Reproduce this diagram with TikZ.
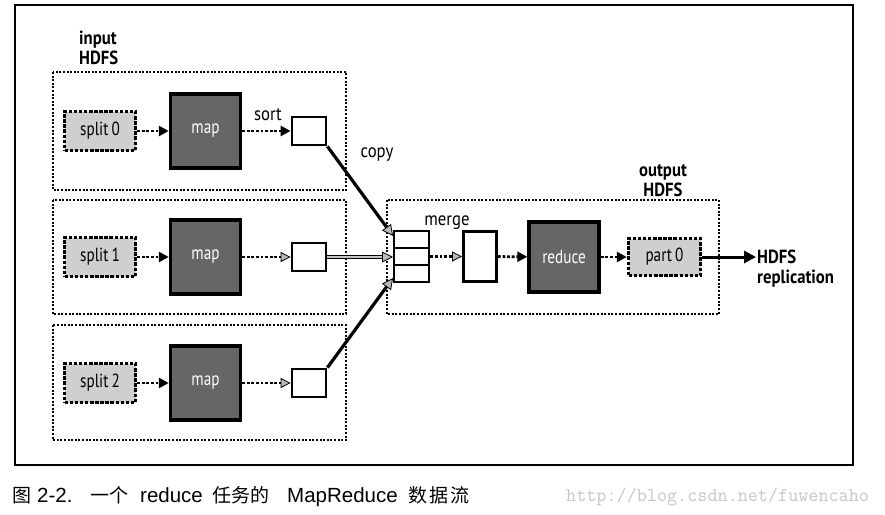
\documentclass[tikz,border=0pt]{standalone}
\usepackage{fontspec}
\usetikzlibrary{arrows.meta,calc}
\newfontfamily\lblfont[FakeStretch=0.88]{PT Sans}
\newfontfamily\boxfont[FakeStretch=0.8]{PT Sans}
\newfontfamily\cjkfont{Noto Sans CJK SC}
\newfontfamily\capfont{Liberation Sans}
\newcommand{\cjkcap}[1]{{\cjkfont\fontsize{19}{20}\selectfont #1}}
\newcommand{\latcap}[1]{{\capfont\fontsize{20.5}{21}\selectfont #1}}
\tikzset{
  frame/.style={line width=2pt},
  dotbox/.style={draw, line width=2pt, dash pattern=on 2pt off 1.6pt},
  splitbox/.style={draw, line width=3.4pt, dash pattern=on 3.5pt off 1.6pt, fill=gray!38,
    minimum width=71pt, minimum height=39pt, inner sep=0pt, font=\boxfont\fontsize{19}{19}\selectfont},
  mapbox/.style={draw, line width=3.4pt, fill=black!60, text=white,
    minimum width=70pt, minimum height=74pt, inner sep=0pt, font=\boxfont\fontsize{19}{19}\selectfont},
  smallbox/.style={draw, line width=2.8pt, fill=white, minimum width=34pt, minimum height=28pt, inner sep=0pt},
  cellbox/.style={draw, line width=2.6pt, fill=white, minimum width=35pt, minimum height=17pt, inner sep=0pt},
  lbl/.style={font=\lblfont\bfseries\fontsize{19}{20}\selectfont, inner sep=0pt},
  dotarrow/.style={line width=2.8pt, dash pattern=on 2.8pt off 1.8pt, -{Triangle[length=10pt,width=10pt]}},
  greyarrow/.style={line width=2.8pt, dash pattern=on 2.8pt off 1.8pt, -{Triangle[length=10pt,width=10pt,fill=gray!55,color=black,line width=0.8pt]}},
  copyarrow/.style={line width=3.2pt, -{Triangle[length=11pt,width=11pt,fill=gray!55,color=black,line width=0.8pt]}},
}
\begin{document}
\begin{tikzpicture}[x=1pt,y=-1pt]
\useasboundingbox (0,0) rectangle (885,514);
% outer frame
\draw[frame] (15,5) rectangle (853,465);
% dotted group boxes
\draw[dotbox] (53,72) rectangle (346,190);
\draw[dotbox] (53,200) rectangle (346,314);
\draw[dotbox] (53,325) rectangle (346,440);
\draw[dotbox] (387,200) rectangle (719,314);
% labels
\node[lbl, anchor=north west, align=left] (inlbl) at (79,31) {input\\HDFS};
\node[lbl, anchor=south, align=center] (outlbl) at (663,197) {output\\HDFS};
% row nodes
\foreach \i/\y in {0/131,1/257,2/383}{
  \node[splitbox] (split\i) at (100,\y) {split\,\i};
  \node[mapbox] (map\i) at (205.5,\y) {map};
  \node[smallbox] (sb\i) at (309,\y) {};
  \draw[dotarrow] (split\i) -- (map\i);
}
\draw[dotarrow] (map0) -- (sb0);
\draw[greyarrow] (map1) -- (sb1);
\draw[greyarrow] (map2) -- (sb2);
\node[lbl, font=\lblfont\fontsize{19}{20}\selectfont, anchor=base] (sortlbl) at (268,120) {sort};
\node[lbl, font=\lblfont\fontsize{19}{20}\selectfont, anchor=base] (copylbl) at (377,157) {copy};
\node[lbl, font=\lblfont\fontsize{19}{20}\selectfont, anchor=base] (mergelbl) at (447,225) {merge};
% reduce side
\node[cellbox] (cellA) at (411.5,239.5) {};
\node[cellbox] (cellB) at (411.5,256.5) {};
\node[cellbox] (cellC) at (411.5,273.5) {};
\coordinate (inA) at (393,236);
\coordinate (inB) at (393,257);
\coordinate (inC) at (393,278);
\node[smallbox, minimum width=33pt, minimum height=50pt] (mid) at (480,256.5) {};
\node[mapbox, minimum width=70pt, minimum height=70pt] (red) at (564,257) {reduce};
\node[splitbox, minimum width=72pt, minimum height=37pt] (part) at (664.5,257) {part\,0};
\node[lbl, anchor=north west, align=left] (hdfsrep) at (757,250) {HDFS\\replication};
\coordinate (repin) at (756,257);
% arrows
\draw[copyarrow] (sb0.south east) -- (inA);
\draw[copyarrow, double=gray!45, double distance=1.2pt, line width=1.1pt] (sb1.east) -- (inB);
\draw[copyarrow] (sb2.north east) -- (inC);
\draw[greyarrow] (cellB) -- (mid);
\draw[dotarrow] (mid) -- (red);
\draw[dotarrow] (red) -- (part);
\draw[line width=3pt, -{Triangle[length=12pt,width=12pt]}] (part) -- (repin);
% caption
\node[anchor=base west, inner sep=0pt] (cap) at (12,502) {\rlap{\cjkcap{图}}\hspace{25pt}\rlap{\latcap{2-2.}}\hspace{53pt}\rlap{\cjkcap{一个}}\hspace{50pt}\rlap{\latcap{reduce}}\hspace{72pt}\rlap{\cjkcap{任务的}}\hspace{75pt}\rlap{\latcap{MapReduce}}\hspace{121pt}\cjkcap{数\hspace{2pt}据\hspace{2pt}流}};
\node[anchor=base west, inner sep=0pt, text=gray!45, font=\ttfamily\fontsize{19.6}{20}\selectfont] (wm) at (566,501) {http://blog.csdn.net/fuwencaho};
\end{tikzpicture}
\end{document}
